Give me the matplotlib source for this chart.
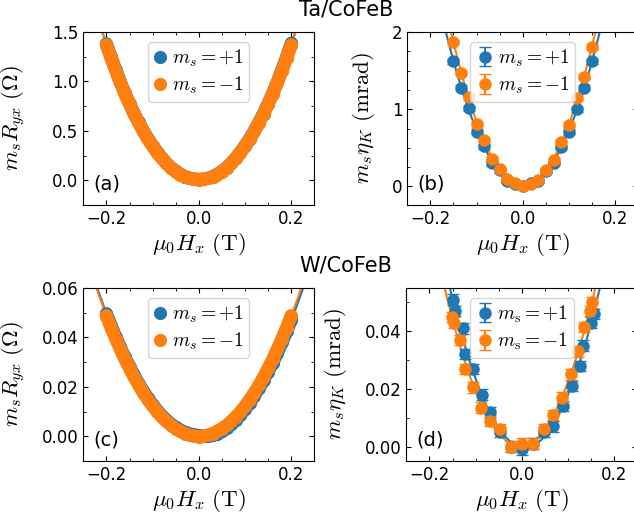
import numpy as np
import matplotlib.pyplot as plt
from matplotlib.ticker import MultipleLocator

plt.rcParams['mathtext.fontset'] = 'cm'
plt.rcParams['font.size'] = 12
plt.rcParams['xtick.direction'] = 'in'
plt.rcParams['ytick.direction'] = 'in'
plt.rcParams['xtick.top'] = True
plt.rcParams['ytick.right'] = True
plt.rcParams['xtick.minor.visible'] = True
plt.rcParams['ytick.minor.visible'] = True

blue = '#1f77b4'
orange = '#ff7f0e'

# (a) Ta/CoFeB, Hall resistance, field sweep -0.2 .. 0.2 T
field_a = np.round(np.arange(-0.20, 0.2001, 0.01), 2)
Ryx_ta_up = [1.38, 1.245, 1.12, 0.995, 0.88, 0.775, 0.675, 0.585, 0.50, 0.42,
             0.35, 0.285, 0.225, 0.172, 0.127, 0.090, 0.060, 0.037, 0.021, 0.012,
             0.009,
             0.012, 0.021, 0.037, 0.060, 0.090, 0.127, 0.172, 0.225, 0.285, 0.35,
             0.42, 0.50, 0.585, 0.675, 0.775, 0.88, 0.995, 1.12, 1.245, 1.385]
Ryx_ta_dn = [1.37, 1.235, 1.11, 0.99, 0.875, 0.77, 0.67, 0.58, 0.495, 0.415,
             0.345, 0.28, 0.222, 0.17, 0.125, 0.088, 0.058, 0.035, 0.019, 0.010,
             0.007,
             0.010, 0.019, 0.035, 0.058, 0.088, 0.125, 0.17, 0.222, 0.28, 0.345,
             0.415, 0.495, 0.58, 0.67, 0.77, 0.875, 0.99, 1.11, 1.235, 1.37]

# (b) Ta/CoFeB, Kerr rotation
field_b = np.round(np.linspace(-0.15, 0.15, 19), 4)
eta_ta_up = [1.62, 1.28, 1.01, 0.71, 0.52, 0.30, 0.21, 0.074, 0.03, 0.01,
             0.04, 0.074, 0.20, 0.31, 0.51, 0.71, 1.00, 1.28, 1.62]
eta_ta_dn = [1.87, 1.47, 1.16, 0.81, 0.60, 0.355, 0.225, 0.095, 0.04, 0.0,
             0.03, 0.08, 0.21, 0.34, 0.57, 0.80, 1.15, 1.42, 1.81]
eta_ta_err = 0.03

# (c) W/CoFeB, Hall resistance
field_c = np.round(np.arange(-0.20, 0.2001, 0.01), 2)
Ryx_w_up = [0.0496, 0.0448, 0.0403, 0.0360, 0.0319, 0.0282, 0.0246, 0.0212, 0.0182, 0.0154,
            0.0128, 0.0104, 0.0083, 0.0065, 0.0049, 0.0036, 0.0025, 0.0016, 0.0010, 0.0006,
            0.0003,
            0.0000, 0.0000, 0.0004, 0.0010, 0.0020, 0.0032, 0.0048, 0.0066, 0.0087, 0.0110,
            0.0136, 0.0164, 0.0194, 0.0226, 0.0262, 0.0298, 0.0338, 0.0380, 0.0424, 0.0472]
Ryx_w_dn = [0.0488, 0.0440, 0.0395, 0.0353, 0.0312, 0.0275, 0.0239, 0.0206, 0.0176, 0.0148,
            0.0122, 0.0099, 0.0078, 0.0060, 0.0044, 0.0031, 0.0020, 0.0011, 0.0005, 0.0001,
            -0.0002,
            0.0001, 0.0005, 0.0011, 0.0020, 0.0031, 0.0044, 0.0060, 0.0078, 0.0099, 0.0122,
            0.0148, 0.0176, 0.0206, 0.0239, 0.0275, 0.0312, 0.0353, 0.0395, 0.0440, 0.0488]

# (d) W/CoFeB, Kerr rotation
field_d_up = [-0.150, -0.145, -0.128, -0.124, -0.105, -0.087, -0.068, -0.047, -0.023, 0.000,
              0.023, 0.047, 0.068, 0.088, 0.108, 0.126, 0.133, 0.150, 0.155]
eta_w_up = [0.051, 0.047, 0.041, 0.032, 0.027, 0.018, 0.012, 0.005, 0.000, -0.001,
            0.001, 0.005, 0.007, 0.014, 0.021, 0.028, 0.035, 0.043, 0.046]
field_d_dn = [-0.152, -0.146, -0.134, -0.124, -0.106, -0.088, -0.069, -0.047, -0.023, 0.000,
              0.023, 0.047, 0.068, 0.087, 0.106, 0.122, 0.135, 0.148, 0.152]
eta_w_dn = [0.045, 0.043, 0.037, 0.027, 0.0205, 0.0135, 0.009, 0.006, 0.000, 0.001,
            0.001, 0.006, 0.011, 0.017, 0.025, 0.033, 0.0415, 0.047, 0.050]
eta_w_err = 0.0018

lab_up = r'$m_s=+1$'
lab_dn = r'$m_s=-1$'
xlab = r'$\mu_0 H_x\ (\mathrm{T})$'


def fit_line(ax, x, y, color):
    # quadratic fit drawn across the whole axis range
    p = np.polyfit(x, y, 2)
    xx = np.linspace(-0.25, 0.25, 301)
    ax.plot(xx, np.polyval(p, xx), color=color, lw=1.5, zorder=1)


def dense(ax, x, y, color, label):
    # dense sweep: markers plus a band of the same width so it reads as one trace
    ax.plot(x, y, '-', color=color, lw=9.5, solid_capstyle='round', zorder=2)
    ax.plot(x, y, 'o', color=color, ms=8.5, label=label, zorder=2)


def setup(ax, ylim, ymaj, ymin, ylabel, tag, ylab_x, hl, hp):
    ax.set_xlim(-0.25, 0.25)
    ax.set_ylim(*ylim)
    ax.xaxis.set_major_locator(MultipleLocator(0.2))
    ax.xaxis.set_minor_locator(MultipleLocator(0.05))
    ax.yaxis.set_major_locator(MultipleLocator(ymaj))
    ax.yaxis.set_minor_locator(MultipleLocator(ymin))
    ax.set_xlabel(xlab, fontsize=16.5, labelpad=2)
    ax.set_ylabel(ylabel, fontsize=16.5)
    ax.yaxis.set_label_coords(ylab_x, 0.5)
    ax.text(0.045, 0.12, tag, transform=ax.transAxes, fontsize=14, va='center')
    ax.legend(loc='upper center', fontsize=14, handlelength=hl, handletextpad=hp,
              borderpad=0.3, labelspacing=0.3)


fig = plt.figure(figsize=(6.34, 5.20), dpi=100)
w, h = 0.3644, 0.3327
ax_a = fig.add_axes([0.1314, 0.6058, w, h])
ax_b = fig.add_axes([0.6424, 0.6058, w, h])
ax_c = fig.add_axes([0.1314, 0.1135, w, h])
ax_d = fig.add_axes([0.6410, 0.1135, w, h])

dense(ax_a, field_a, Ryx_ta_up, blue, lab_up)
dense(ax_a, field_a, Ryx_ta_dn, orange, lab_dn)
fit_line(ax_a, field_a, Ryx_ta_up, blue)
fit_line(ax_a, field_a, Ryx_ta_dn, orange)
setup(ax_a, (-0.25, 1.5), 0.5, 0.25, r'$m_s R_{yx}\ (\Omega)$', '(a)', -0.24, 0.6, 0.3)

ax_b.errorbar(field_b, eta_ta_up, yerr=eta_ta_err, fmt='o', ms=8, capsize=4,
              color=blue, label=lab_up, zorder=2)
ax_b.errorbar(field_b, eta_ta_dn, yerr=eta_ta_err, fmt='o', ms=8, capsize=4,
              color=orange, label=lab_dn, zorder=2)
fit_line(ax_b, field_b, eta_ta_up, blue)
fit_line(ax_b, field_b, eta_ta_dn, orange)
setup(ax_b, (-0.24, 2.0), 1, 0.25, r'$m_s \eta_K\ (\mathrm{mrad})$', '(b)', -0.13, 0.9, 0.2)

dense(ax_c, field_c, Ryx_w_up, blue, lab_up)
dense(ax_c, field_c, Ryx_w_dn, orange, lab_dn)
fit_line(ax_c, field_c, Ryx_w_up, blue)
fit_line(ax_c, field_c, Ryx_w_dn, orange)
setup(ax_c, (-0.01, 0.06), 0.02, 0.01, r'$m_s R_{yx}\ (\Omega)$', '(c)', -0.24, 0.6, 0.3)

ax_d.errorbar(field_d_up, eta_w_up, yerr=eta_w_err, fmt='o', ms=8, capsize=4,
              color=blue, label=r'$m_\mathrm{s}=+1$', zorder=2)
ax_d.errorbar(field_d_dn, eta_w_dn, yerr=eta_w_err, fmt='o', ms=8, capsize=4,
              color=orange, label=r'$m_\mathrm{s}=-1$', zorder=2)
fit_line(ax_d, field_d_up, eta_w_up, blue)
fit_line(ax_d, field_d_dn, eta_w_dn, orange)
setup(ax_d, (-0.005, 0.055), 0.02, 0.01, r'$m_s \eta_K\ (\mathrm{mrad})$', '(d)', -0.25, 0.9, 0.2)

fig.text(0.546, 0.981, 'Ta/CoFeB', fontsize=15, ha='center', va='center')
fig.text(0.545, 0.489, 'W/CoFeB', fontsize=15, ha='center', va='center')

fig.savefig('out.png', dpi=100)
